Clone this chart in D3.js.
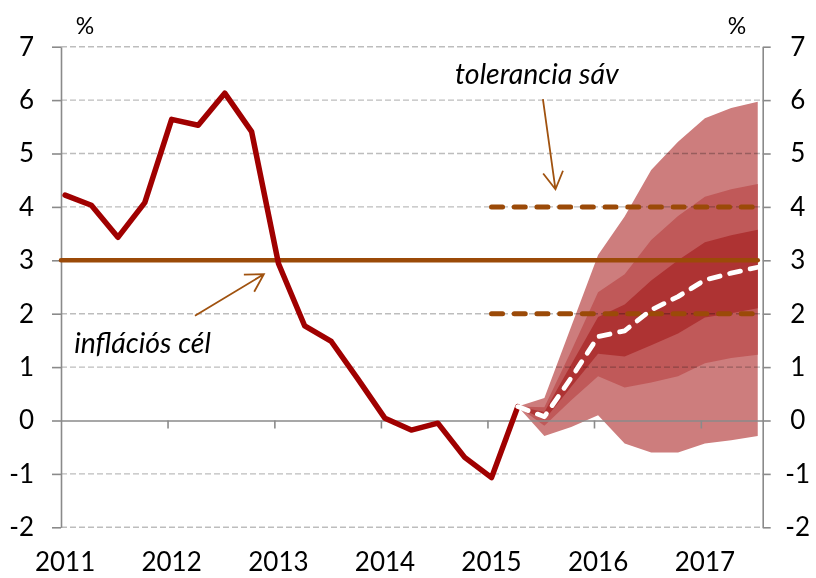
<!DOCTYPE html>
<html><head><meta charset="utf-8">
<script src="https://cdn.jsdelivr.net/npm/d3@7"></script>
<style>
body{margin:0;background:#fff;}
text{font-family:Lato,"Open Sans",sans-serif;fill:#000;}
</style>
</head><body>
<svg id="chart" width="816" height="578"></svg>
<script>
// ---------- data ----------
const periods = ["2011Q1","2011Q2","2011Q3","2011Q4","2012Q1","2012Q2","2012Q3","2012Q4",
  "2013Q1","2013Q2","2013Q3","2013Q4","2014Q1","2014Q2","2014Q3","2014Q4",
  "2015Q1","2015Q2","2015Q3","2015Q4","2016Q1","2016Q2","2016Q3","2016Q4",
  "2017Q1","2017Q2","2017Q3"];
const actual = [4.22,4.03,3.43,4.08,5.64,5.53,6.13,5.41,2.94,1.77,1.48,0.77,0.04,-0.18,-0.05,-0.69,-1.07,0.26];
const fanPeriods = periods.slice(17);
const central     = [0.26,0.07,0.80,1.57,1.68,2.07,2.32,2.63,2.76,2.87];
const outerUpper  = [0.26,0.42,1.76,3.10,3.82,4.69,5.22,5.66,5.85,5.97];
const middleUpper = [0.26,0.25,1.30,2.40,2.74,3.38,3.83,4.19,4.33,4.43];
const innerUpper  = [0.26,0.16,1.05,1.94,2.17,2.62,3.00,3.34,3.47,3.57];
const innerLower  = [0.26,0.01,0.63,1.25,1.20,1.41,1.63,1.93,2.01,2.10];
const middleLower = [0.26,-0.10,0.38,0.83,0.62,0.71,0.83,1.07,1.17,1.23];
const outerLower  = [0.26,-0.29,-0.12,0.10,-0.43,-0.60,-0.60,-0.43,-0.37,-0.29];
const target = 3;
const toleranceLow = 2, toleranceHigh = 4;
const tolerancePeriods = ["2015Q1","2017Q3"];
const yTicks = [-2,-1,0,1,2,3,4,5,6,7];
const yearLabels = ["2011","2012","2013","2014","2015","2016","2017"];
const unitLabel = "%";
const annotations = [
  {text:"inflációs cél", x:"2011-02-15", y:1.27, tail:["2012-04-04",1.96], tip:["2012-11-26",2.74]},
  {text:"tolerancia sáv", x:"2014-09-12", y:6.31, tail:["2015-07-10",6.02], tip:["2015-08-22",4.33]}
];

// ---------- helpers ----------
const pDate = p => new Date(+p.slice(0,4), (+p.slice(5)-1)*3, 15);
const dDate = s => { const [a,b,c] = s.split("-").map(Number); return new Date(a,b-1,c); };

const svg = d3.select("#chart");
const x = d3.scaleTime().domain([new Date(2011,0,1), new Date(2017,7,1)]).range([61, 762.7]);
const y = d3.scaleLinear().domain([-2,7]).range([527.3, 46.7]);
const X0 = x.range()[0], X1 = x.range()[1];

// ---------- fan ----------
const fanRows = fanPeriods.map((p,i)=>({d:pDate(p), c:central[i], ou:outerUpper[i], mu:middleUpper[i],
  iu:innerUpper[i], il:innerLower[i], ml:middleLower[i], ol:outerLower[i]}));
const area = (lo,hi) => d3.area().x(r=>x(r.d)).y0(r=>y(r[lo])).y1(r=>y(r[hi]));
svg.append("path").datum(fanRows).attr("d", area("ol","ou")).attr("fill","#cd7d7d");
svg.append("path").datum(fanRows).attr("d", area("ml","mu")).attr("fill","#c05959");
svg.append("path").datum(fanRows).attr("d", area("il","iu")).attr("fill","#ae3333");

// ---------- gridlines ----------
svg.append("g").selectAll("line").data(yTicks.filter(v=>v!==0)).join("line")
  .attr("x1",X0).attr("x2",X1).attr("y1",d=>y(d)).attr("y2",d=>y(d))
  .attr("stroke","#bdbdbd").attr("stroke-width",1.4).attr("stroke-dasharray","6,3")
  .style("mix-blend-mode","multiply");

// ---------- axes ----------
const axisColor = "#8a8a8a";
const fmt = d => String(d);
const gl = svg.append("g").attr("transform",`translate(${X0},0)`)
  .call(d3.axisLeft(y).tickValues(yTicks).tickSize(9).tickSizeOuter(0).tickPadding(18).tickFormat(fmt));
const gr = svg.append("g").attr("transform",`translate(${X1},0)`)
  .call(d3.axisRight(y).tickValues(yTicks).tickSize(8).tickSizeOuter(0).tickPadding(27).tickFormat(fmt));
const yearDates = yearLabels.map(s=>new Date(+s,0,1));
const gx = svg.append("g").attr("transform",`translate(0,${y(0)})`)
  .call(d3.axisBottom(x).tickValues(yearDates.slice(1)).tickSize(8).tickSizeOuter(0).tickFormat(""));
[gl,gr,gx].forEach(g=>{
  g.selectAll("path,line").attr("stroke",axisColor).attr("stroke-width",1.6);
  g.selectAll("text").attr("font-size",26).attr("font-family","Lato,'Open Sans',sans-serif").attr("fill","#000");
});
gr.selectAll("text").attr("text-anchor","middle");

// year labels
svg.append("g").selectAll("text").data(yearLabels).join("text")
  .attr("x",d=>x(new Date(+d,0,15))).attr("y",571).attr("text-anchor","middle")
  .attr("font-size",26).text(d=>d);

// unit labels
svg.append("text").attr("x",85).attr("y",34).attr("text-anchor","middle").attr("font-size",23).text(unitLabel);
svg.append("text").attr("x",737).attr("y",34).attr("text-anchor","middle").attr("font-size",23).text(unitLabel);

// ---------- target & tolerance ----------
const brown = "#9b4a08";
svg.append("line").attr("x1",X0).attr("x2",x(pDate(periods[periods.length-1])))
  .attr("y1",y(target)).attr("y2",y(target)).attr("stroke",brown).attr("stroke-width",4.5).attr("stroke-linecap","round");
[toleranceLow,toleranceHigh].forEach(v=>{
  svg.append("line").attr("x1",x(pDate(tolerancePeriods[0]))).attr("x2",x(pDate(tolerancePeriods[1])))
    .attr("y1",y(v)).attr("y2",y(v)).attr("stroke",brown).attr("stroke-width",5)
    .attr("stroke-linecap","round").attr("stroke-dasharray","11,11.7");
});

// ---------- actual inflation ----------
svg.append("path").datum(actual.map((v,i)=>({d:pDate(periods[i]), v})))
  .attr("d", d3.line().x(r=>x(r.d)).y(r=>y(r.v)))
  .attr("fill","none").attr("stroke","#a00000").attr("stroke-width",5.5)
  .attr("stroke-linejoin","round").attr("stroke-linecap","round");

// ---------- central projection ----------
svg.append("path").datum(fanRows)
  .attr("d", d3.line().x(r=>x(r.d)).y(r=>y(r.c)))
  .attr("fill","none").attr("stroke","#fff").attr("stroke-width",4.8)
  .attr("stroke-linecap","round").attr("stroke-linejoin","round").attr("stroke-dasharray","11,10");

// ---------- annotations ----------
annotations.forEach(a=>{
  svg.append("text").attr("x",x(dDate(a.x))).attr("y",y(a.y)).attr("font-size",28.5)
    .attr("font-style","italic").text(a.text);
  const tx = x(dDate(a.tail[0])), ty = y(a.tail[1]);
  const hx = x(dDate(a.tip[0])), hy = y(a.tip[1]);
  const ang = Math.atan2(ty-hy, tx-hx), L = 20, s = Math.PI/6;
  const p = d3.path();
  p.moveTo(tx,ty); p.lineTo(hx,hy);
  p.moveTo(hx+L*Math.cos(ang+s), hy+L*Math.sin(ang+s)); p.lineTo(hx,hy);
  p.lineTo(hx+L*Math.cos(ang-s), hy+L*Math.sin(ang-s));
  svg.append("path").attr("d",p.toString()).attr("fill","none").attr("stroke","#a0520f").attr("stroke-width",1.8);
});
</script>
</body></html>
